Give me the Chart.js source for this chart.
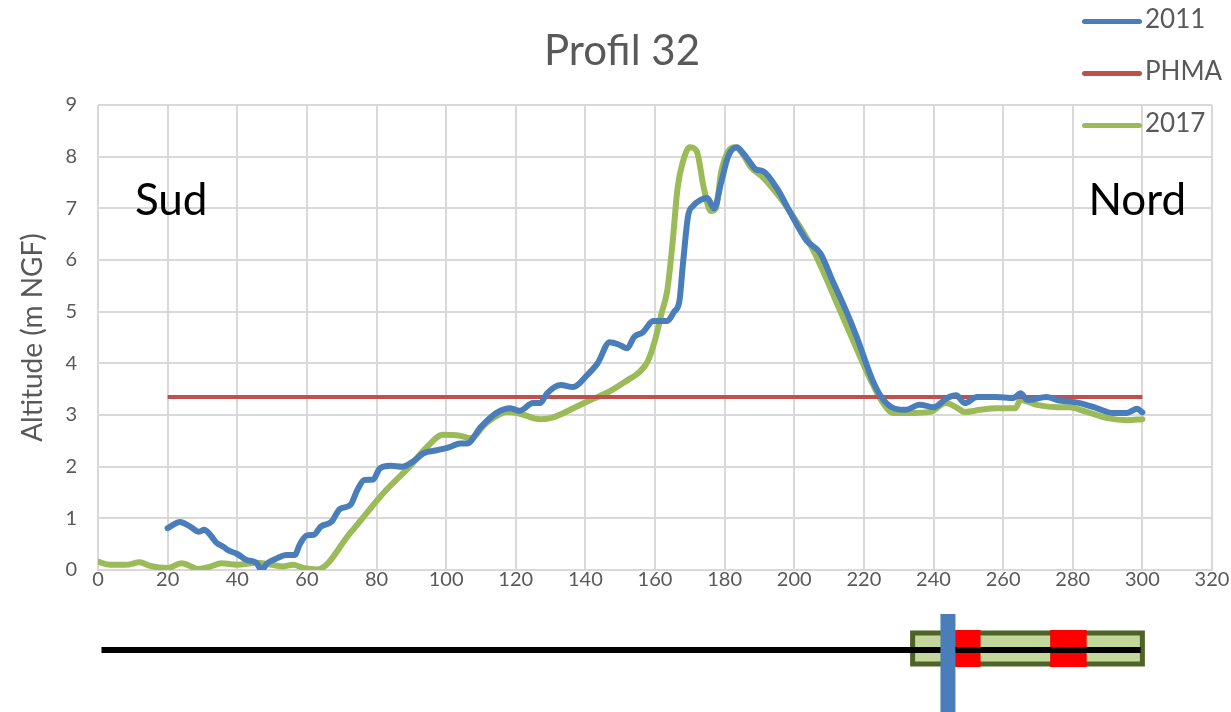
<!DOCTYPE html>
<html>
<head>
<meta charset="utf-8">
<script src="https://cdn.jsdelivr.net/npm/chart.js@4.4.0/dist/chart.umd.min.js"></script>
<style>
  body { margin: 0; background: #fff; font-family: Lato, "Open Sans", sans-serif; }
  #wrap { position: relative; width: 1231px; height: 712px; }
  #chart { position: absolute; left: 0; top: 0; }
  #title { position: absolute; left: 0; width: 1244px; top: 24px; text-align: center; font-size: 42px; color: #595959; }
  .leg { position: absolute; left: 1082px; height: 30px; font-size: 26px; color: #595959; line-height: 30px; }
  .leg span { display: inline-block; width: 60px; height: 5px; border-radius: 3px; vertical-align: middle; margin-right: 3px; }
</style>
</head>
<body>
<div id="wrap">
  <canvas id="chart" width="1231" height="712"></canvas>
  <div id="title">Profil 32</div>
  <div class="leg" style="top:3px"><span style="background:#4A7EBB"></span>2011</div>
  <div class="leg" style="top:55px"><span style="background:#C0504D"></span>PHMA</div>
  <div class="leg" style="top:107px"><span style="background:#9BBB59"></span>2017</div>
</div>
<script>
// distance (m) and altitude (m NGF)
const x2011 = [20, 21, 23.5, 26.5, 29, 30.5, 32, 34, 36, 37.5, 40, 42.5, 45.5, 47, 48.5, 51.5, 54, 56.5, 58, 60, 62, 64, 67, 69.5, 72.5, 74.5, 76.5, 79, 81, 84, 87.5, 90.5, 93.5, 97.5, 101, 104, 106, 110, 114.5, 118.5, 121, 125, 127, 129, 133, 136.5, 140.5, 143.5, 147, 150, 152, 154, 156.5, 159.5, 163.5, 165.5, 167, 168, 169.5, 171, 173, 175, 177, 179, 181, 183.5, 185.5, 187.5, 189, 191, 195, 199, 203.5, 207.5, 211, 215, 218, 222.5, 225, 228, 232, 236, 240, 244, 246.5, 249, 252.5, 258, 263, 265, 267, 272.5, 275.5, 282, 287, 291.5, 295.5, 298.5, 300];
const y2011 = [0.81, 0.85, 0.93, 0.84, 0.74, 0.78, 0.7, 0.53, 0.45, 0.38, 0.31, 0.2, 0.14, 0.0, 0.12, 0.23, 0.29, 0.29, 0.5, 0.67, 0.68, 0.84, 0.93, 1.18, 1.26, 1.55, 1.74, 1.75, 1.97, 2.02, 2.0, 2.1, 2.26, 2.32, 2.38, 2.45, 2.45, 2.77, 3.04, 3.13, 3.08, 3.23, 3.23, 3.42, 3.58, 3.54, 3.77, 4.0, 4.41, 4.35, 4.29, 4.51, 4.6, 4.82, 4.82, 5.0, 5.2, 5.9, 6.85, 7.05, 7.16, 7.2, 7.0, 7.5, 8.0, 8.18, 8.05, 7.87, 7.75, 7.72, 7.39, 6.9, 6.38, 6.13, 5.6, 5.0, 4.5, 3.67, 3.35, 3.15, 3.1, 3.2, 3.15, 3.33, 3.38, 3.23, 3.35, 3.35, 3.33, 3.42, 3.29, 3.35, 3.29, 3.23, 3.13, 3.04, 3.04, 3.12, 3.05];

const x2017 = [0, 3.5, 8, 12, 15, 20, 24, 29, 32, 35.5, 40, 45.5, 50, 53, 56, 59, 63, 72.5, 82, 89.5, 94.5, 99, 104, 107, 111.5, 117.5, 121, 127, 131, 136.5, 141.5, 146.5, 152, 155.5, 158, 160, 162, 163.5, 165, 166.5, 168, 170, 172, 174, 176, 177.5, 179, 181, 183, 185, 187.5, 191, 196, 201, 205, 209.5, 212, 216, 222, 225.5, 228.5, 234, 239, 243.5, 246.5, 249, 253.5, 258, 263.5, 265, 270, 275.5, 279, 284, 290, 295.5, 300];
const y2017 = [0.16, 0.1, 0.1, 0.15, 0.08, 0.04, 0.13, 0.02, 0.06, 0.13, 0.1, 0.14, 0.1, 0.07, 0.1, 0.04, 0.01, 0.72, 1.49, 2.0, 2.38, 2.62, 2.6, 2.55, 2.84, 3.06, 3.03, 2.92, 2.96, 3.13, 3.29, 3.44, 3.67, 3.83, 4.05, 4.45, 5.0, 5.4, 6.3, 7.4, 7.9, 8.18, 8.1, 7.4, 6.95, 7.0, 7.7, 8.1, 8.18, 8.07, 7.8, 7.6, 7.2, 6.71, 6.25, 5.6, 5.2, 4.58, 3.67, 3.23, 3.04, 3.04, 3.06, 3.23, 3.15, 3.06, 3.1, 3.13, 3.13, 3.29, 3.19, 3.15, 3.15, 3.06, 2.94, 2.9, 2.92];

const xPhma = [20, 300];
const yPhma = [3.35, 3.35];

function pts(xs, ys) {
  return xs.map((v, i) => ({ x: v, y: ys[i] }));
}

// Sud / Nord labels and the little plan strip under the axis
const overlay = {
  id: 'overlay',
  afterDraw(chart) {
    const ctx = chart.ctx;
    const sx = chart.scales.x, sy = chart.scales.y;
    ctx.save();
    ctx.fillStyle = '#000';
    ctx.font = '44px Lato, sans-serif';
    ctx.textBaseline = 'middle';
    ctx.fillText('Sud', sx.getPixelForValue(10.6), sy.getPixelForValue(7.15));
    ctx.fillText('Nord', sx.getPixelForValue(284.5), sy.getPixelForValue(7.15));

    const px = v => sx.getPixelForValue(v);
    // green zone
    ctx.fillStyle = '#C3D69B';
    ctx.strokeStyle = '#4F6228';
    ctx.lineWidth = 5;
    ctx.fillRect(px(234), 633, px(300) - px(234), 31);
    ctx.strokeRect(px(234), 633, px(300) - px(234), 31);
    // red blocks
    ctx.fillStyle = '#FF0000';
    ctx.fillRect(px(245.5), 630, px(253.5) - px(245.5), 37);
    ctx.fillRect(px(273.5), 630, px(284) - px(273.5), 37);
    // profile line
    ctx.fillStyle = '#000';
    ctx.fillRect(px(1), 647, px(299.5) - px(1), 6);
    // blue marker
    ctx.fillStyle = '#4A7EBB';
    ctx.fillRect(px(242), 614, px(246.3) - px(242), 98);
    ctx.restore();
  }
};

const ctx = document.getElementById('chart').getContext('2d');
new Chart(ctx, {
  type: 'line',
  data: {
    datasets: [
      { label: '2011', data: pts(x2011, y2011), borderColor: '#4A7EBB', borderWidth: 6, pointRadius: 0, cubicInterpolationMode: 'monotone', borderCapStyle: 'round', borderJoinStyle: 'round' },
      { label: 'PHMA', data: pts(xPhma, yPhma), borderColor: '#C0504D', borderWidth: 4, pointRadius: 0 },
      { label: '2017', data: pts(x2017, y2017), borderColor: '#9BBB59', borderWidth: 6, pointRadius: 0, cubicInterpolationMode: 'monotone', borderCapStyle: 'round', borderJoinStyle: 'round' }
    ]
  },
  options: {
    responsive: false,
    animation: false,
    layout: { padding: { top: 105, right: 19, bottom: 102, left: 0 } },
    plugins: { legend: { display: false }, tooltip: { enabled: false } },
    scales: {
      x: {
        type: 'linear', min: 0, max: 320,
        ticks: { stepSize: 20, autoSkip: false, color: '#595959', font: { family: 'Lato', size: 20 }, padding: -2, maxRotation: 0 },
        grid: { color: '#d9d9d9', lineWidth: 2, drawTicks: false },
        border: { color: '#d9d9d9', width: 2 },
        afterFit: s => { s.height = 40; }
      },
      y: {
        min: 0, max: 9,
        ticks: { stepSize: 1, color: '#595959', font: { family: 'Lato', size: 20 }, padding: 21 },
        grid: { color: '#d9d9d9', lineWidth: 2, drawTicks: false },
        border: { display: false },
        title: { display: true, text: 'Altitude (m NGF)', color: '#595959', font: { family: 'Lato', size: 28 }, padding: { top: 16, bottom: 0 } },
        afterFit: s => { s.width = 98; }
      }
    }
  },
  plugins: [overlay]
});
</script>
</body>
</html>
